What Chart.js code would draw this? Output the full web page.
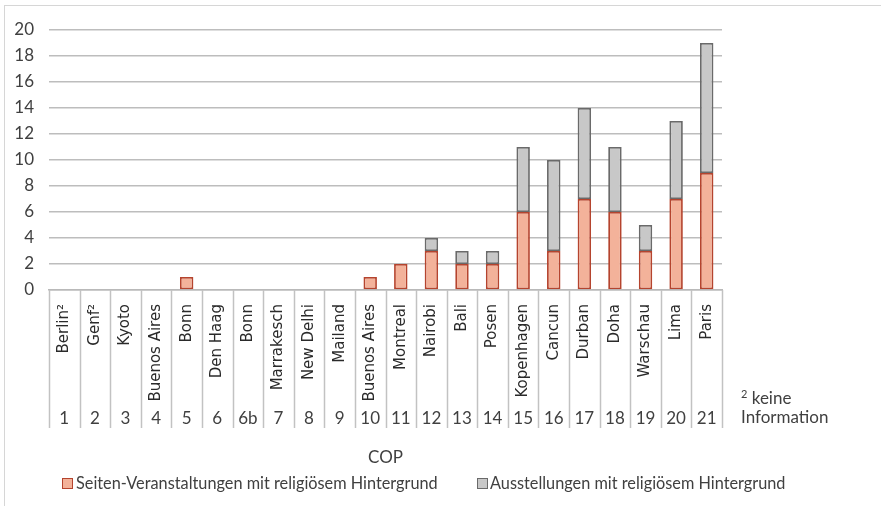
<!DOCTYPE html>
<html>
<head>
<meta charset="utf-8">
<script src="https://cdn.jsdelivr.net/npm/chart.js@4"></script>
<style>
  html, body { margin: 0; padding: 0; background: #ffffff; overflow: hidden; }
  #wrap { position: relative; width: 881px; height: 506px; }
  #frame { position: absolute; left: 4px; top: 5px; width: 900px; height: 520px; border: 1px solid #d6d6d6; box-sizing: border-box; }
  canvas { position: absolute; left: 0; top: 0; }
  .txt { position: absolute; font-family: Lato, "Open Sans", sans-serif; font-size: 16.3px; color: #404040; white-space: nowrap; line-height: 20px; }
  .box { position: absolute; width: 9px; height: 9px; border-width: 1.5px; border-style: solid; }
</style>
</head>
<body>
<div id="wrap">
  <div id="frame"></div>
  <canvas id="c" width="881" height="506"></canvas>
  <div class="box" id="lb1" style="left:62px;top:478px;"></div>
  <div class="txt" id="lt1" style="left:76px;top:473px;"></div>
  <div class="box" id="lb2" style="left:477px;top:478px;"></div>
  <div class="txt" id="lt2" style="left:490px;top:473px;"></div>
  <div class="txt" style="left:741px;top:384px;font-size:17px;"><sup style="font-size:11px;vertical-align:6px;">2</sup> keine</div>
  <div class="txt" style="left:741px;top:407px;font-size:17px;">Information</div>
</div>
<script>
const cities = ['Berlin²','Genf²','Kyoto','Buenos Aires','Bonn','Den Haag','Bonn','Marrakesch','New Delhi','Mailand','Buenos Aires','Montreal','Nairobi','Bali','Posen','Kopenhagen','Cancun','Durban','Doha','Warschau','Lima','Paris'];
const copNumbers = ['1','2','3','4','5','6','6b','7','8','9','10','11','12','13','14','15','16','17','18','19','20','21'];
const sideEvents = [0,0,0,0,1,0,0,0,0,0,1,2,3,2,2,6,3,7,6,3,7,9];
const exhibitions = [0,0,0,0,0,0,0,0,0,0,0,0,1,1,1,5,7,7,5,2,6,10];
const seriesNames = ['Seiten-Veranstaltungen mit religiösem Hintergrund','Ausstellungen mit religiösem Hintergrund'];
const yTicks = [0,2,4,6,8,10,12,14,16,18,20];
const axisTitle = 'COP';

const redFill = '#f3b29a', redBorder = '#b5442e';
const grayFill = '#c8c8c8', grayBorder = '#6a6a6a';

document.getElementById('lb1').style.background = redFill;
document.getElementById('lb1').style.borderColor = redBorder;
document.getElementById('lb2').style.background = grayFill;
document.getElementById('lb2').style.borderColor = grayBorder;
document.getElementById('lt1').textContent = seriesNames[0];
document.getElementById('lt2').textContent = seriesNames[1];

const textColor = '#404040';
const baseFont = 'Lato, "Open Sans", sans-serif';

const separators = {
  id: 'separators',
  afterDraw(chart) {
    const xs = chart.scales.x, x2 = chart.scales.x2;
    const ctx = chart.ctx;
    const n = cities.length;
    const step = (xs.right - xs.left) / n;
    ctx.save();
    ctx.strokeStyle = '#c2c2c2';
    ctx.lineWidth = 1.5;
    ctx.beginPath();
    for (let i = 0; i <= n; i++) {
      const px = Math.round(xs.left + i * step) + 0.5;
      ctx.moveTo(px, xs.top);
      ctx.lineTo(px, x2.top + 24);
    }
    ctx.stroke();
    ctx.restore();
  }
};

new Chart(document.getElementById('c'), {
  type: 'bar',
  data: {
    labels: cities,
    datasets: [
      { label: seriesNames[0], data: sideEvents, backgroundColor: redFill, borderColor: redBorder, borderWidth: 1.8, borderSkipped: false, barPercentage: 0.44, categoryPercentage: 1 },
      { label: seriesNames[1], data: exhibitions, backgroundColor: grayFill, borderColor: grayBorder, borderWidth: 1.8, borderSkipped: false, barPercentage: 0.44, categoryPercentage: 1 }
    ]
  },
  options: {
    responsive: false,
    animation: false,
    devicePixelRatio: 1,
    layout: { padding: { top: 30, right: 159, bottom: 34, left: 0 } },
    plugins: { legend: { display: false }, tooltip: { enabled: false } },
    scales: {
      x: {
        type: 'category',
        position: 'bottom',
        weight: 0,
        stacked: true,
        offset: true,
        grid: { display: true, drawOnChartArea: false, drawTicks: false, color: 'rgba(0,0,0,0)' },
        border: { display: true, color: '#b9b9b9', width: 1.5 },
        ticks: { autoSkip: false, minRotation: 90, maxRotation: 90, padding: 14, color: '#2a2a2a', font: { family: '"DejaVu Sans", sans-serif', size: 15 } },
        afterFit(s) { s.height = 114; }
      },
      x2: {
        type: 'category',
        position: 'bottom',
        weight: 1,
        labels: copNumbers,
        offset: true,
        grid: { display: false, drawTicks: false },
        border: { display: false },
        ticks: { autoSkip: false, maxRotation: 0, minRotation: 0, padding: 4, color: textColor, font: { family: baseFont, size: 17 } },
        title: { display: true, text: axisTitle, color: textColor, font: { family: baseFont, size: 17 } },
        afterFit(s) { s.height = 68; }
      },
      y: {
        stacked: true,
        min: 0,
        max: 20,
        afterBuildTicks(s) { s.ticks = yTicks.map(v => ({ value: v })); },
        grid: { color: '#bdbdbd', lineWidth: 1.5, drawTicks: false },
        border: { display: false },
        ticks: { padding: 15, color: textColor, font: { family: baseFont, size: 17 } },
        afterFit(s) { s.width = 49; }
      }
    }
  },
  plugins: [separators]
});
</script>
</body>
</html>
